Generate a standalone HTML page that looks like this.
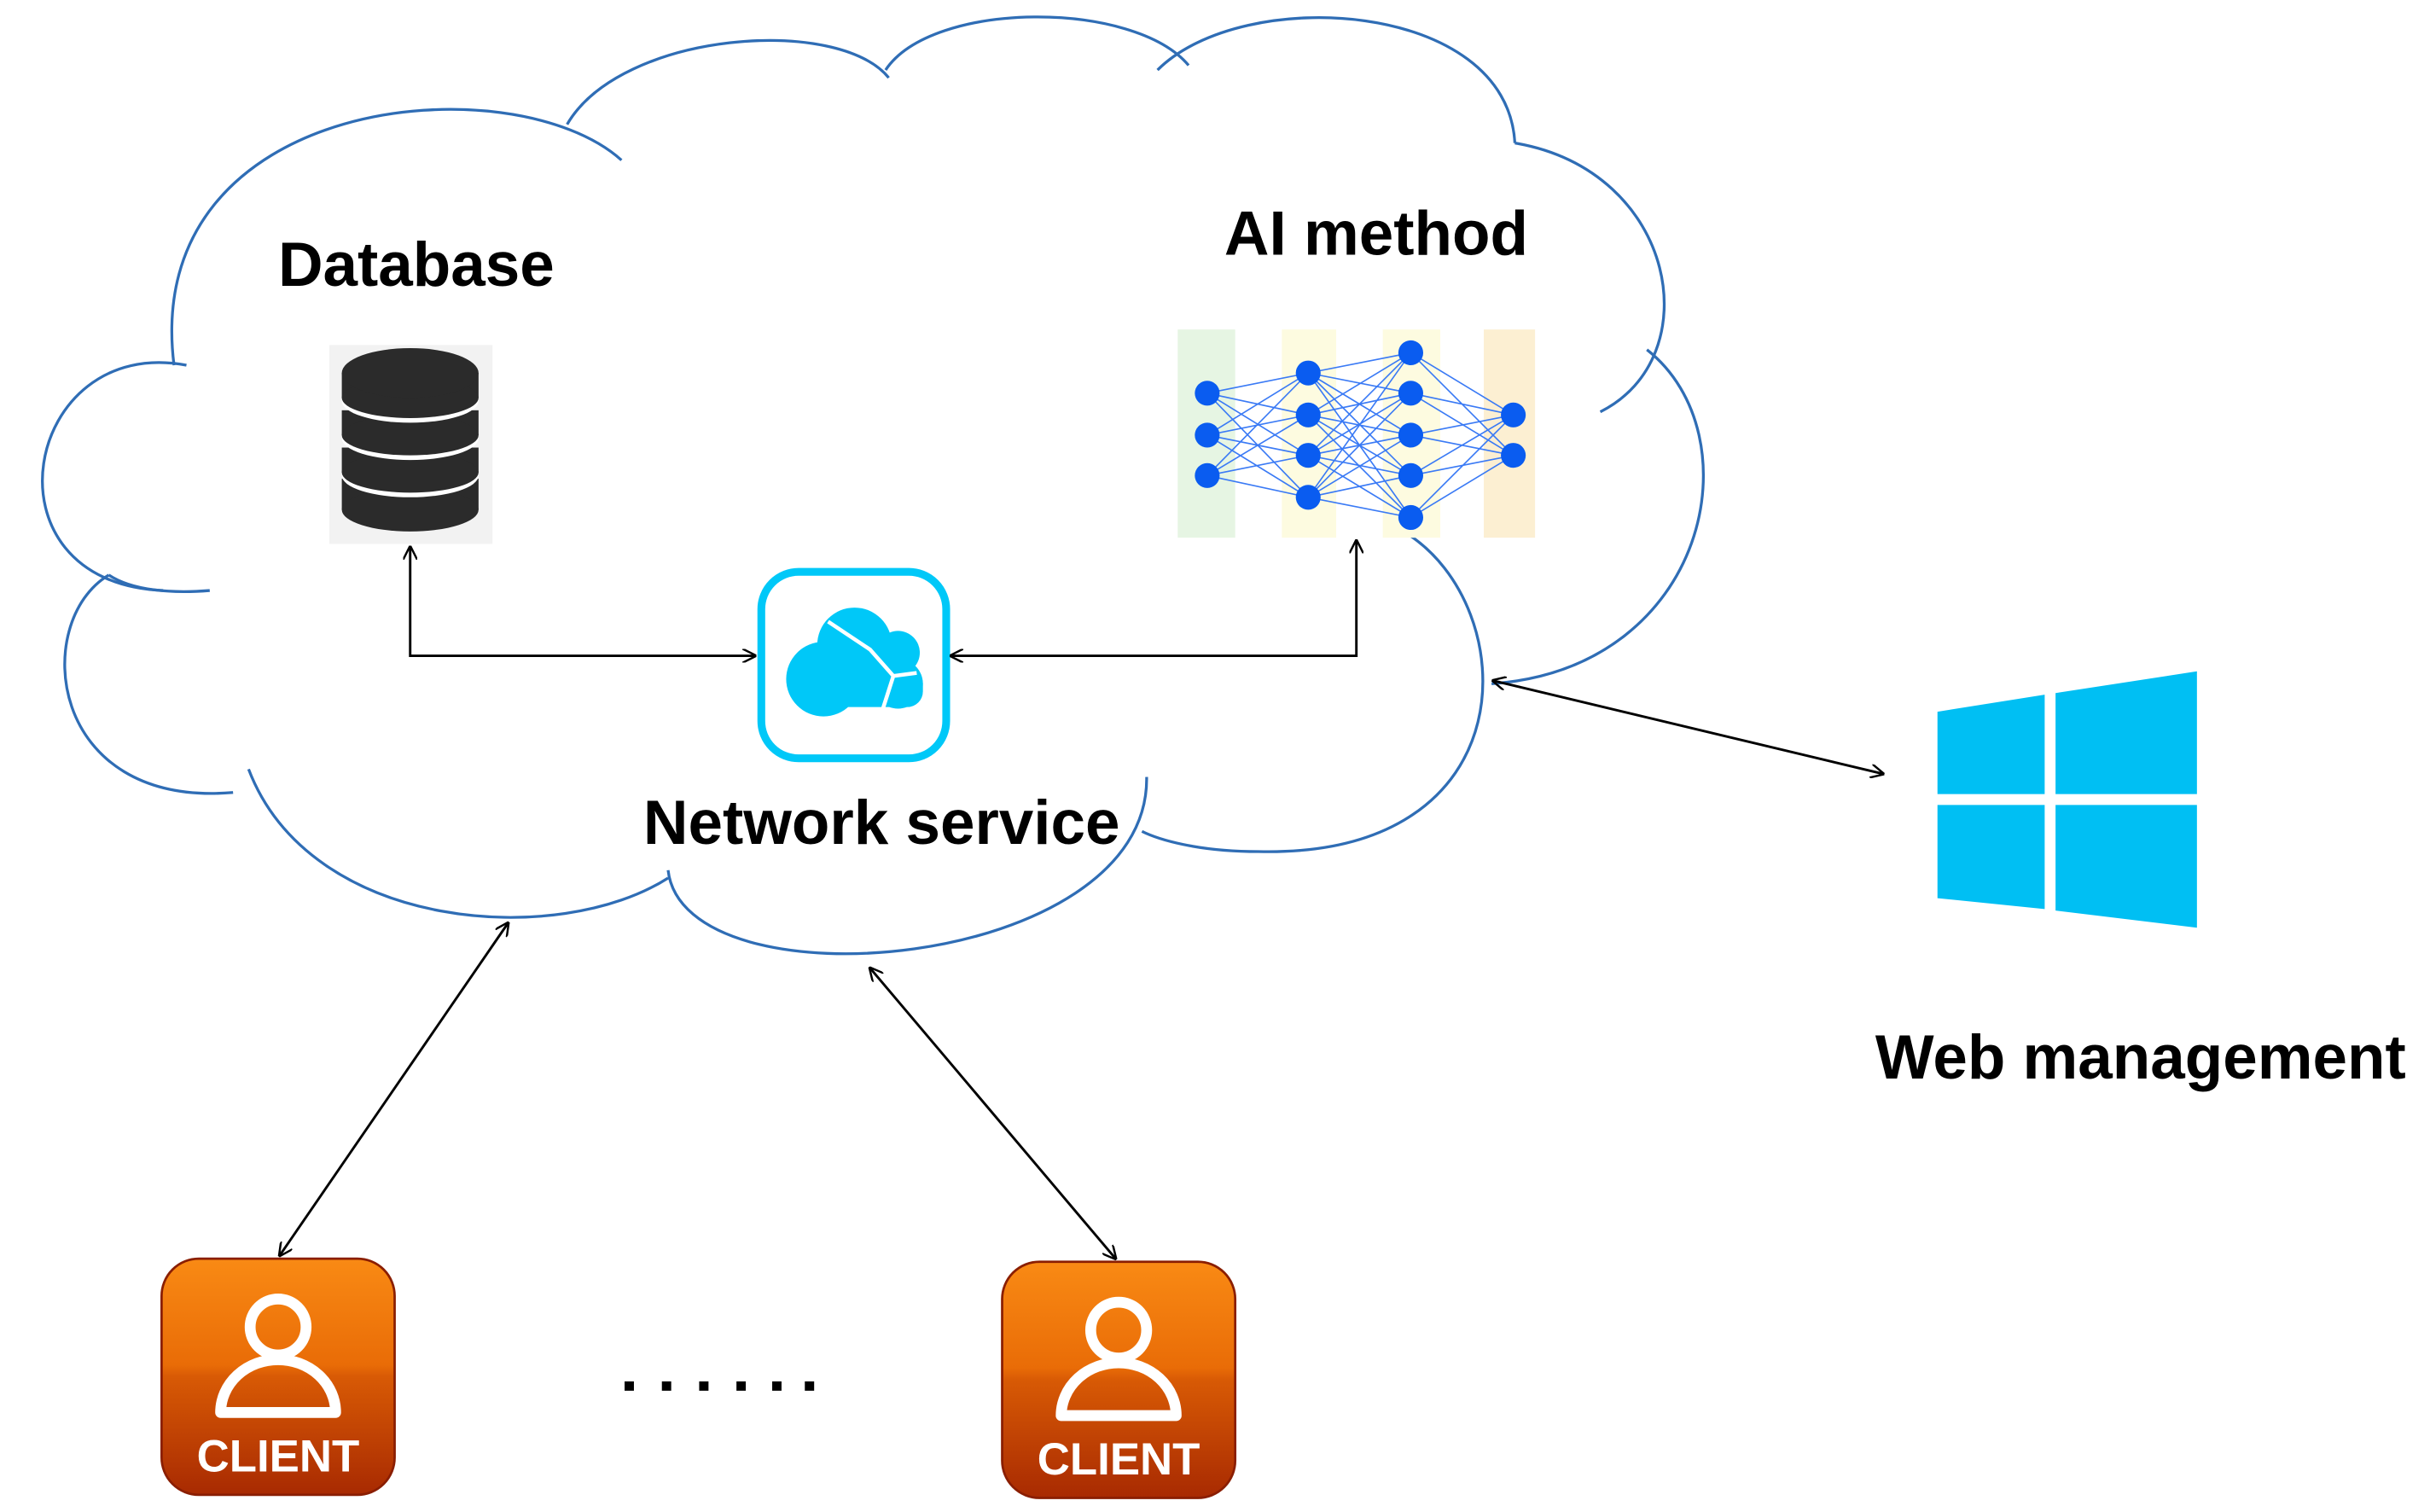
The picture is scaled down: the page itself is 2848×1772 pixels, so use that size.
<!DOCTYPE html>
<html><head><meta charset="utf-8"><style>
html,body{margin:0;padding:0;background:#fff;}
svg{display:block;}
text{font-family:"Liberation Sans",sans-serif;font-weight:bold;fill:#000;}
</style></head><body>
<svg width="2848" height="1772" viewBox="0 0 1564 973" xmlns="http://www.w3.org/2000/svg">
<defs>
<marker id="ah" viewBox="0 0 10 10" refX="9" refY="5" markerWidth="9" markerHeight="9" orient="auto-start-reverse" markerUnits="userSpaceOnUse">
<path d="M0,0 L10,5 L0,10" fill="none" stroke="#000" stroke-width="1.5"/>
</marker>
<linearGradient id="og" x1="0" y1="0" x2="0" y2="1">
<stop offset="0" stop-color="#f98a14"/><stop offset="0.45" stop-color="#e96c07"/><stop offset="0.5" stop-color="#d85a05"/><stop offset="1" stop-color="#a82a02"/>
</linearGradient>
</defs>
<!-- cloud -->
<g fill="none" stroke="#2f6db5" stroke-width="1.8">
<path d="M120,235 C15,215 -15,375 105,380"/>
<path d="M112,235 C90,60 330,40 400,103"/>
<path d="M365,80 C400,20 540,10 572,50"/>
<path d="M570,45 C600,0 730,0 765,42"/>
<path d="M745,45 C800,-10 970,0 975,92"/>
<path d="M975,92 C1080,110 1100,230 1030,265"/>
<path d="M1060,225 C1130,280 1100,430 960,440"/>
<path d="M905,343 C980,390 985,552 810,548 C770,548 745,540 735,535"/>
<path d="M738,500 C740,625 440,650 430,560"/>
<path d="M430,565 C360,610 200,600 160,495"/>
<path d="M70,370 C20,400 30,520 150,510"/>
<path d="M70,370 C85,380 110,382 135,380"/>
</g>
<!-- database -->
<rect x="212" y="222" width="105" height="128" fill="#f2f2f2"/>
<g fill="#2b2b2b">
<rect x="220" y="308" width="88" height="20"/><ellipse cx="264" cy="328" rx="44" ry="14"/>
<ellipse cx="264" cy="306" rx="44" ry="14" fill="#fff"/>
<rect x="220" y="288" width="88" height="16"/><ellipse cx="264" cy="304" rx="44" ry="13"/>
<ellipse cx="264" cy="282" rx="44" ry="14" fill="#fff"/>
<rect x="220" y="264" width="88" height="16"/><ellipse cx="264" cy="280" rx="44" ry="13"/>
<ellipse cx="264" cy="258" rx="44" ry="14" fill="#fff"/>
<rect x="220" y="240" width="88" height="16"/><ellipse cx="264" cy="256" rx="44" ry="13"/>
<ellipse cx="264" cy="240" rx="44" ry="16"/>
</g>
<!-- neural net -->
<rect x="758" y="212" width="37" height="134" fill="#e6f5e3"/>
<rect x="825" y="212" width="35" height="134" fill="#fdfbe0"/>
<rect x="890" y="212" width="37" height="134" fill="#fdfbe0"/>
<rect x="955" y="212" width="33" height="134" fill="#fcefd2"/>
<g stroke="#3a7af5" stroke-width="0.9">
<path d="M777,253L842,240M777,253L842,267M777,253L842,293M777,253L842,320M777,280L842,240M777,280L842,267M777,280L842,293M777,280L842,320M777,306L842,240M777,306L842,267M777,306L842,293M777,306L842,320"/>
<path d="M842,240L908,227M842,240L908,253M842,240L908,280M842,240L908,306M842,240L908,333M842,267L908,227M842,267L908,253M842,267L908,280M842,267L908,306M842,267L908,333M842,293L908,227M842,293L908,253M842,293L908,280M842,293L908,306M842,293L908,333M842,320L908,227M842,320L908,253M842,320L908,280M842,320L908,306M842,320L908,333"/>
<path d="M908,227L974,267M908,227L974,293M908,253L974,267M908,253L974,293M908,280L974,267M908,280L974,293M908,306L974,267M908,306L974,293M908,333L974,267M908,333L974,293"/>
</g>
<g fill="#0a5cf0">
<circle cx="777" cy="253" r="8"/><circle cx="777" cy="280" r="8"/><circle cx="777" cy="306" r="8"/>
<circle cx="842" cy="240" r="8"/><circle cx="842" cy="267" r="8"/><circle cx="842" cy="293" r="8"/><circle cx="842" cy="320" r="8"/>
<circle cx="908" cy="227" r="8"/><circle cx="908" cy="253" r="8"/><circle cx="908" cy="280" r="8"/><circle cx="908" cy="306" r="8"/><circle cx="908" cy="333" r="8"/>
<circle cx="974" cy="267" r="8"/><circle cx="974" cy="293" r="8"/>
</g>
<!-- network service icon -->
<rect x="490" y="368" width="119" height="120" rx="24" fill="#fff" stroke="#00c8f8" stroke-width="5"/>
<g fill="#00c8f8">
<circle cx="530" cy="437" r="24"/><circle cx="550" cy="415" r="24"/><circle cx="578" cy="420" r="14"/><circle cx="578" cy="440" r="16"/>
<rect x="510" y="430" width="84" height="25" rx="10"/>
</g>
<g stroke="#fff" stroke-width="2.5" fill="none">
<path d="M533,400 L560,418 L575,435 L590,433 M575,435 L567,460"/>
</g>
<!-- connectors -->
<g fill="none" stroke="#000" stroke-width="1.6">
<path d="M264,352 L264,422 L486,422" marker-start="url(#ah)" marker-end="url(#ah)"/>
<path d="M612,422 L873,422 L873,348" marker-start="url(#ah)" marker-end="url(#ah)"/>
<path d="M961,438 L1212,498" marker-start="url(#ah)" marker-end="url(#ah)"/>
<path d="M327,594 L180,808" marker-start="url(#ah)" marker-end="url(#ah)"/>
<path d="M560,623 L718,810" marker-start="url(#ah)" marker-end="url(#ah)"/>
</g>
<!-- windows -->
<g fill="#00bff3">
<polygon points="1247,458 1316,447 1316,511 1247,511"/>
<polygon points="1323,446 1414,432 1414,511 1323,511"/>
<polygon points="1247,518 1316,518 1316,585 1247,578"/>
<polygon points="1323,518 1414,518 1414,597 1323,586"/>
</g>
<!-- clients -->
<g>
<rect x="104" y="810" width="150" height="152" rx="24" fill="url(#og)" stroke="#8a1e02" stroke-width="1.5"/>
<circle cx="179" cy="854" r="18" fill="none" stroke="#fff" stroke-width="7"/>
<path d="M142,909 A37,34 0 0 1 216,909 Z" fill="none" stroke="#fff" stroke-width="7" stroke-linejoin="round"/>
<text x="179" y="947" font-size="29" text-anchor="middle" style="fill:#fff">CLIENT</text>
<rect x="645" y="812" width="150" height="152" rx="24" fill="url(#og)" stroke="#8a1e02" stroke-width="1.5"/>
<circle cx="720" cy="856" r="18" fill="none" stroke="#fff" stroke-width="7"/>
<path d="M683,911 A37,34 0 0 1 757,911 Z" fill="none" stroke="#fff" stroke-width="7" stroke-linejoin="round"/>
<text x="720" y="949" font-size="29" text-anchor="middle" style="fill:#fff">CLIENT</text>
</g>
<g fill="#000">
<rect x="402" y="889" width="6" height="6"/><rect x="426" y="889" width="6" height="6"/><rect x="450" y="889" width="6" height="6"/>
<rect x="474" y="889" width="6" height="6"/><rect x="497" y="889" width="6" height="6"/><rect x="518" y="889" width="6" height="6"/>
</g>
<!-- labels -->
<text x="179" y="184" font-size="40">Database</text>
<text x="788" y="164" font-size="40">AI method</text>
<text x="414" y="543" font-size="40">Network service</text>
<text x="1207" y="694" font-size="40">Web management</text>
</svg>
</body></html>
